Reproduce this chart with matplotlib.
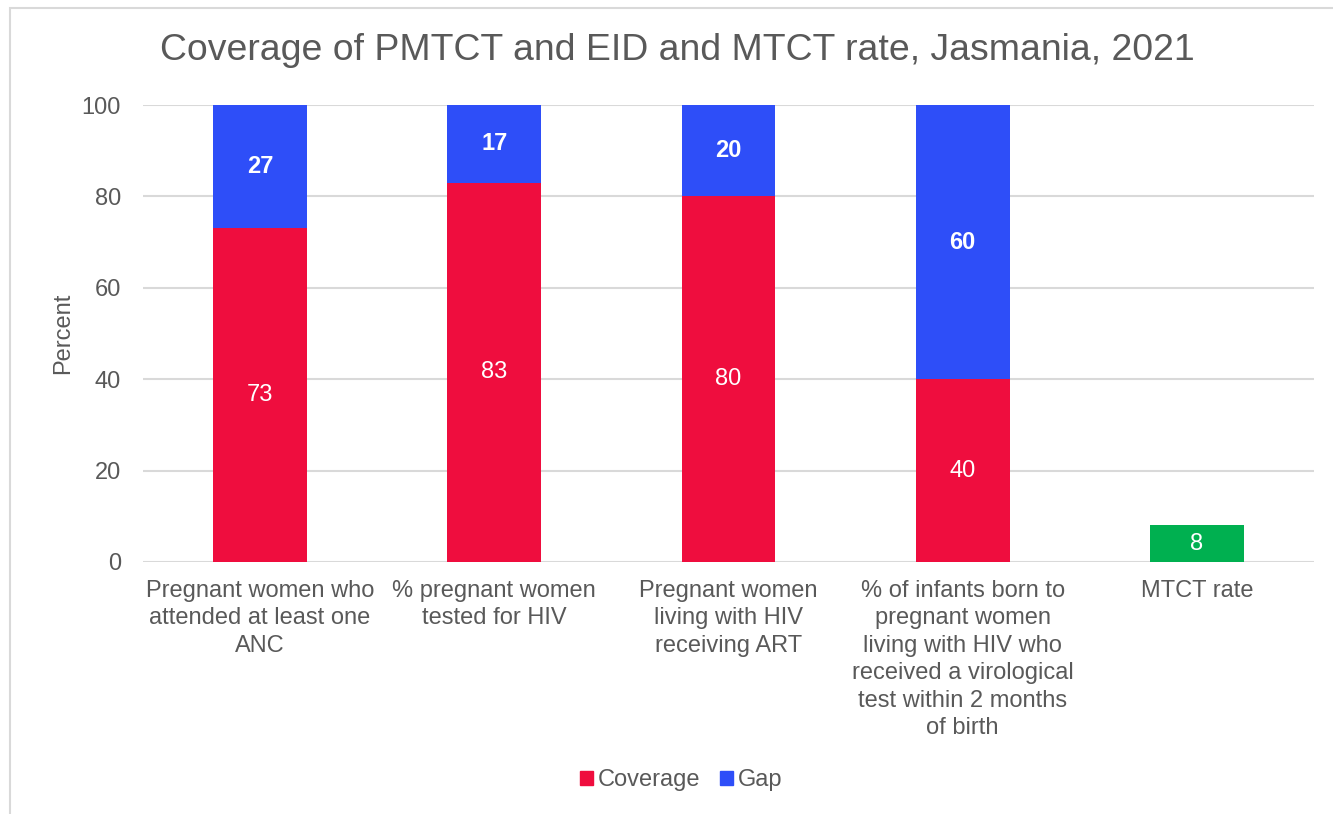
import matplotlib.pyplot as plt
from matplotlib.patches import Rectangle, Patch

plt.rcParams['font.family'] = ['Liberation Sans', 'DejaVu Sans']

categories = [
    "Pregnant women who\nattended at least one\nANC",
    "% pregnant women\ntested for HIV",
    "Pregnant women\nliving with HIV\nreceiving ART",
    "% of infants born to\npregnant women\nliving with HIV who\nreceived a virological\ntest within 2 months\nof birth",
    "MTCT rate",
]
coverage = [73, 83, 80, 40, 8]
gap = [27, 17, 20, 60, 0]
yticks = [0, 20, 40, 60, 80, 100]

red = "#EF0D3E"
blue = "#2E4EF8"
green = "#00B050"
grey = "#595959"

fig = plt.figure(figsize=(13.33, 8.14), dpi=100)
fig.patches.append(Rectangle((9.5 / 1333, -0.1), 1.2, 1.1 - 8.5 / 814,
                             transform=fig.transFigure, fill=False,
                             edgecolor="#D9D9D9", linewidth=1.5))

ax = fig.add_axes([143 / 1333, 1 - 562 / 814, (1314 - 143) / 1333, (562 - 105) / 814])

x = list(range(len(categories)))
cov_colors = [red] * 4 + [green]
cov_bars = ax.bar(x, coverage, width=0.4, color=cov_colors, zorder=3)
gap_bars = ax.bar(x[:4], gap[:4], width=0.4, bottom=coverage[:4], color=blue, zorder=3)

for b, v in zip(cov_bars, coverage):
    ax.text(b.get_x() + b.get_width() / 2, b.get_y() + v / 2, str(v),
            ha="center", va="center", color="white", fontsize=17, zorder=4)
for b, v in zip(gap_bars, gap[:4]):
    ax.text(b.get_x() + b.get_width() / 2, b.get_y() + v / 2, str(v),
            ha="center", va="center", color="white", fontsize=17,
            fontweight="bold", zorder=4)

ax.set_xlim(-0.5, len(categories) - 0.5)
ax.set_ylim(0, 100)
ax.set_yticks(yticks)
ax.yaxis.grid(True, color="#D9D9D9", linewidth=1.5, zorder=0)
ax.set_axisbelow(True)
for s in ax.spines.values():
    s.set_visible(False)
ax.tick_params(axis="both", length=0, labelsize=17, labelcolor=grey)
ax.tick_params(axis="y", pad=16)
ax.tick_params(axis="x", pad=13)
ax.set_xticks(x)
ax.set_xticklabels(categories, linespacing=1.32)
ax.set_ylabel("Percent", fontsize=17, color=grey, labelpad=5.5)

fig.text(0.508, 1 - 51 / 814, "Coverage of PMTCT and EID and MTCT rate, Jasmania, 2021",
         ha="center", va="center", fontsize=26.9, color=grey)

handles = [Patch(color=red, label="Coverage"), Patch(color=blue, label="Gap")]
fig.legend(handles=handles, loc="center", bbox_to_anchor=(0.511, 1 - 780 / 814),
           ncol=2, frameon=False, fontsize=17, labelcolor=grey,
           handlelength=0.55, handleheight=0.55, handletextpad=0.2, columnspacing=0.85)

fig.savefig("out.png", dpi=100)
